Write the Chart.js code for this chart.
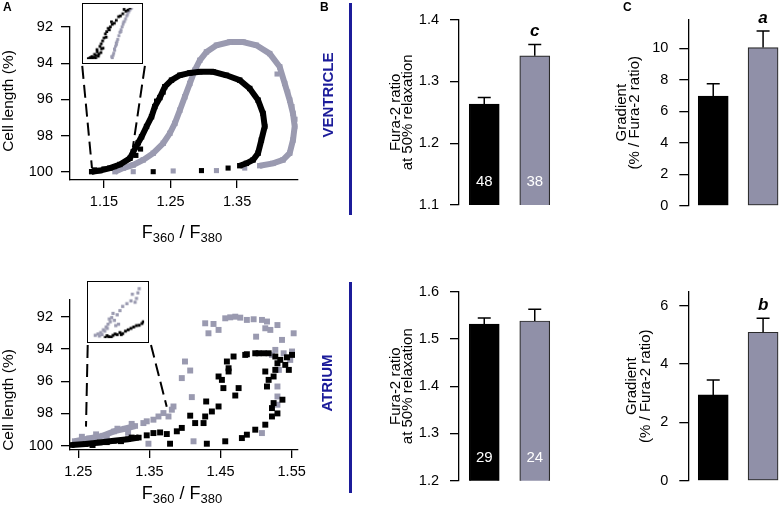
<!DOCTYPE html>
<html>
<head>
<meta charset="utf-8">
<script src="https://cdn.jsdelivr.net/npm/chart.js@4.4.1/dist/chart.umd.min.js"></script>
<style>
  body { margin: 0; width: 781px; height: 516px; background: #fff; position: relative; overflow: hidden;
         font-family: "Liberation Sans", Arial, sans-serif; color: #000; }
  canvas, .txt, .vline { position: absolute; }
  .inset { border: 1px solid #000; }
  .panel { font-weight: bold; font-size: 12px; line-height: 14px; }
  .rot { transform: rotate(-90deg); text-align: center; white-space: nowrap; }
  .tissue { color: #1c1c9a; font-weight: bold; font-size: 15px; line-height: 16px; width: 100px; height: 16px; }
  .ylab { font-size: 15.5px; line-height: 18px; width: 130px; height: 18px; }
  .xlab { font-size: 18px; line-height: 20px; width: 120px; text-align: center; white-space: nowrap; }
  .xlab sub { font-size: 13px; line-height: 0; vertical-align: -4px; }
  .vline { width: 3px; background: #1c1c9a; }
</style>
</head>
<body>

<canvas id="ventLoop" width="320" height="230" style="left:0;top:0"></canvas>
<canvas id="ventInset" class="inset" width="61" height="61" style="left:82px;top:3px"></canvas>
<canvas id="atrLoop" width="320" height="240" style="left:0;top:270px"></canvas>
<canvas id="atrInset" class="inset" width="62" height="62" style="left:87px;top:281px"></canvas>

<canvas id="ventRatio" width="200" height="230" style="left:360px;top:0"></canvas>
<canvas id="atrRatio" width="200" height="240" style="left:360px;top:270px"></canvas>
<canvas id="ventGrad" width="218" height="230" style="left:570px;top:0"></canvas>
<canvas id="atrGrad" width="218" height="240" style="left:570px;top:270px"></canvas>

<div class="txt panel" style="left:3px;top:0">A</div>
<div class="txt panel" style="left:320px;top:0">B</div>
<div class="txt panel" style="left:623px;top:0">C</div>

<div class="txt rot ylab" style="left:-57px;top:92px">Cell length (%)</div>
<div class="txt rot ylab" style="left:-57px;top:391px">Cell length (%)</div>
<div class="txt xlab" style="left:122px;top:222px">F<sub>360</sub> / F<sub>380</sub></div>
<div class="txt xlab" style="left:122px;top:483px">F<sub>360</sub> / F<sub>380</sub></div>

<div class="txt rot tissue" style="left:278px;top:87px">VENTRICLE</div>
<div class="txt rot tissue" style="left:277px;top:375px">ATRIUM</div>
<div class="vline" style="left:349px;top:3px;height:212px"></div>
<div class="vline" style="left:349px;top:282px;height:211px"></div>

<script>
Chart.defaults.font.family = '"Liberation Sans", Arial, sans-serif';
Chart.defaults.color = '#000';

const black = '#000000';
const grey = '#9a9ab0';
const barGrey = '#9090a8';

// ---- panel A, ventricle: [F360/F380, cell length %]
const ventBlackLoop = [[1.1315,100],[1.144,99.94],[1.159,99.8],[1.174,99.6],[1.189,99.26],[1.194,98.9],
  [1.2015,98.4],[1.2065,98.07],[1.214,97.5],[1.2215,96.96],[1.2265,96.4],[1.234,95.9],[1.2415,95.3],
  [1.2515,94.94],[1.264,94.67],[1.279,94.54],[1.294,94.48],[1.314,94.48],[1.334,94.67],[1.354,94.94],
  [1.369,95.4],[1.3815,96.04],[1.389,96.78],[1.3915,97.5],[1.3865,98.25],[1.3815,98.98],[1.374,99.35],
  [1.364,99.54],[1.354,99.67]];
const ventBlackDots = [[1.3365,99.8],[1.2965,99.94],[1.224,100],[1.136,99.9],[1.15,99.85],[1.166,99.72],
  [1.198,99.1],[1.205,98.75],[1.229,96.1],[1.239,95.6]];
const ventGreyLoop = [[1.1665,100],[1.179,99.8],[1.194,99.63],[1.209,99.35],[1.224,98.98],[1.239,98.43],
  [1.249,97.88],[1.2565,97.33],[1.264,96.6],[1.2715,95.86],[1.279,95.12],[1.2865,94.39],[1.294,93.84],
  [1.304,93.38],[1.319,93.01],[1.339,92.83],[1.359,92.83],[1.379,93.01],[1.399,93.47],[1.414,94.2],
  [1.4215,95.12],[1.429,96.04],[1.434,96.78],[1.4365,97.5],[1.434,98.25],[1.429,98.98],[1.419,99.35],
  [1.404,99.54],[1.384,99.67]];
const ventGreyDots = [[1.3615,99.8],[1.319,99.94],[1.254,99.96],[1.194,100],[1.41,94.6],[1.426,95.6],
  [1.4325,96.4],[1.437,97.1]];
const ventInsetBlack = [[1.1328,99.985],[1.1362,99.93],[1.1397,99.87],[1.1431,99.8],[1.1466,99.65],
  [1.15,99.5],[1.1535,99.31],[1.157,99.16],[1.1622,99.05],[1.1673,98.94],[1.1725,98.82],[1.1794,98.69],
  [1.1846,98.6],[1.1345,99.96],[1.1415,99.9],[1.1485,99.72],[1.1552,99.25],[1.1598,99.12],
  [1.131,99.99],[1.1338,99.97],[1.1375,99.98],[1.139,99.95],[1.1412,99.97],[1.1445,99.92],[1.1452,99.86],
  [1.1478,99.82],[1.1505,99.7],[1.1428,99.74],[1.1482,99.58],[1.1518,99.42],[1.1545,99.4],[1.1585,99.2],
  [1.1612,98.98],[1.1648,99.02],[1.1702,98.84],[1.1755,98.76],[1.1772,98.64],[1.182,98.66]];
const ventInsetGrey = [[1.1622,99.985],[1.164,99.84],[1.1663,99.65],[1.1691,99.46],[1.1718,99.27],
  [1.1746,99.12],[1.1777,98.97],[1.1805,98.82],[1.1829,98.71],[1.1857,98.62],[1.1652,99.76],[1.1732,99.2],
  [1.1615,99.93],[1.1632,99.9],[1.165,99.72],[1.1672,99.56],[1.1682,99.52],[1.1705,99.36],[1.173,99.25],
  [1.1758,99.05],[1.1765,98.99],[1.179,98.9],[1.1815,98.78],[1.1842,98.66],[1.1865,98.6],[1.1675,99.6]];
const ventLinks = [[[1.1174,94.15],[1.132,99.8]], [[1.2115,94.15],[1.1935,98.64]]];
const ventXTicks = [1.15, 1.25, 1.35];

// ---- panel A, atrium
const atrBlackBand = [[1.2406,99.96],[1.26,99.9],[1.28,99.8],[1.30,99.7],[1.32,99.6],[1.335,99.5]];
const atrBlackDots = [[1.3462,99.36],[1.3556,99.22],[1.365,99.18],[1.3744,99.28],[1.379,99.88],[1.3885,99.11],
  [1.3955,98.9],[1.4073,98.14],[1.4143,98.6],[1.4261,98.6],[1.4284,98.19],[1.4298,97.26],[1.4307,99.88],
  [1.4378,97.88],[1.4472,97.57],[1.4472,95.71],[1.4519,95.92],[1.454,96.43],[1.4566,99.73],[1.4589,94.78],
  [1.4613,95.2],[1.4613,95.4],[1.4683,94.47],[1.4707,96.89],[1.4754,96.43],[1.48,99.53],[1.4847,94.37],
  [1.487,99.32],[1.487,94.33],[1.4988,99.01],[1.4988,94.27],[1.5035,94.27],[1.5106,94.27],[1.5129,98.7],
  [1.5129,95.4],[1.5153,96.33],[1.5176,95.92],[1.5176,94.27],[1.5223,98.19],[1.5223,97.67],[1.5246,97.36],
  [1.5246,95.71],[1.527,95.3],[1.527,94.47],[1.53,98],[1.53,94.89],[1.534,94.68],[1.537,97.15],[1.541,94.99],
  [1.546,95.3],[1.5434,94.52],[1.5505,94.37],[1.27,99.96],[1.29,99.78],[1.31,99.72],[1.325,99.5]];
const atrGreyBand = [[1.245,99.72],[1.265,99.55],[1.285,99.38],[1.30,99.12],[1.315,98.95],[1.33,98.78]];
const atrGreyDots = [[1.3486,99.88],[1.3415,98.6],[1.3462,98.49],[1.3556,98.39],[1.3627,98.19],[1.3697,97.98],
  [1.3768,98.19],[1.3815,97.77],[1.3838,97.57],[1.3955,95.81],[1.4,94.78],[1.4073,95.34],[1.4096,96.99],
  [1.412,99.73],[1.4284,92.41],[1.433,93.03],[1.4401,92.45],[1.4472,92.82],[1.4566,92.1],[1.4636,92.04],
  [1.4707,92],[1.4777,92.06],[1.487,92.2],[1.4965,92.16],[1.5,93.24],[1.5082,92.2],[1.5129,92.72],
  [1.5153,92.3],[1.52,92.82],[1.5223,94.37],[1.527,94.06],[1.53,92.52],[1.532,95.3],[1.53,96.95],
  [1.53,97.46],[1.5364,93.44],[1.5387,94.27],[1.53,96.33],[1.5505,94.16],[1.5528,93.03],[1.548,94.68],
  [1.5082,99.22],[1.255,99.45],[1.275,99.3],[1.29,99.5],[1.305,98.95],[1.32,99.2],[1.325,98.65]];
const atrInsetGrey = [[1.2707,99.92],[1.2754,99.88],[1.2802,99.84],[1.2849,99.76],[1.2896,99.68],[1.2929,99.6],
  [1.2967,99.53],[1.2991,99.41],[1.3038,99.49],[1.3086,99.33],[1.3133,99.21],[1.318,99.09],[1.3252,99.01],
  [1.3323,98.93],[1.3394,98.97],[1.3418,98.86],[1.3347,98.74],[1.3442,98.7],[1.3465,98.58],[1.3015,99.29],
  [1.3062,99.64],[1.3109,99.6],[1.278,99.94],[1.2825,99.9],[1.287,99.8],[1.2915,99.72],[1.295,99.45]];
const atrInsetBlack = [[1.2882,99.98],[1.2944,99.96],[1.3015,99.92],[1.3086,99.9],[1.3133,99.84],[1.318,99.87],
  [1.3228,99.8],[1.3275,99.76],[1.3323,99.72],[1.337,99.68],[1.3418,99.64],[1.3465,99.63],[1.3513,99.58],
  [1.3536,99.53],[1.2912,99.93],[1.2985,99.97],[1.305,99.88],[1.3155,99.9]];
const atrLinks = [[[1.2632,93.755],[1.2608,98.82]], [[1.3522,93.755],[1.3743,97.58]]];
const atrXTicks = [1.25, 1.35, 1.45, 1.55];
const lengthTicks = [92, 94, 96, 98, 100];

// ---- panels B and C: [black, grey]
const groups = ['black', 'grey'];
const ventRatio = [1.2635, 1.3416];
const ventRatioErr = [0.0105, 0.0184];
const ventN = ['48', '38'];
const ventRatioSig = ['', 'c'];
const atrRatio = [1.5317, 1.538];
const atrRatioErr = [0.0127, 0.025];
const atrN = ['29', '24'];
const atrRatioSig = ['', ''];
const ventGrad = [6.96, 10.04];
const ventGradErr = [0.79, 1.05];
const ventGradSig = ['', 'a'];
const atrGrad = [2.94, 5.09];
const atrGradErr = [0.51, 0.48];
const atrGradSig = ['', 'b'];
const ventRatioTicks = [1.1, 1.2, 1.3, 1.4];
const atrRatioTicks = [1.2, 1.3, 1.4, 1.5, 1.6];
const ventGradTicks = [0, 2, 4, 6, 8, 10];
const atrGradTicks = [0, 2, 4, 6];

const tickFont = { size: 14.5 };
const axisGrid = { drawOnChartArea: false, tickLength: 9, color: '#000', lineWidth: 1.3 };
const axisBorder = { color: '#000', width: 1.3 };

function fixedTicks(values) {
    return axis => { axis.ticks = values.map(v => ({ value: v })); };
}

function xy(pts) {
    return pts.map(p => ({ x: p[0], y: p[1] }));
}

function dots(pts, color, r) {
    return { data: xy(pts), showLine: false, pointStyle: 'rect', pointRadius: r,
             pointBackgroundColor: color, pointBorderWidth: 0 };
}

function trace(pts, color, r, w) {
    const set = dots(pts, color, r);
    set.showLine = true;
    set.borderColor = color;
    set.borderWidth = w;
    set.tension = 0;
    return set;
}

function link(pts) {
    return { data: xy(pts), showLine: true, pointRadius: 0, borderColor: '#000',
             borderWidth: 2, borderDash: [13, 6] };
}

function ShowLoop(id, sets, xr, yr, xTicks, padTop, padBottom) {
    new Chart(document.getElementById(id), {
        type: 'scatter',
        data: { datasets: sets },
        options: {
            responsive: false,
            animation: false,
            layout: { padding: { left: 0, top: padTop, right: 22, bottom: padBottom } },
            plugins: { legend: { display: false }, tooltip: { enabled: false } },
            scales: {
                x: {
                    min: xr[0], max: xr[1],
                    afterBuildTicks: fixedTicks(xTicks),
                    afterFit: a => { a.height = 40; },
                    grid: { drawOnChartArea: false, tickLength: 8, color: '#000', lineWidth: 1.3 },
                    border: axisBorder,
                    ticks: { font: tickFont, padding: 5, maxRotation: 0, autoSkip: false,
                             callback: v => v.toFixed(2) }
                },
                y: {
                    reverse: true,
                    min: yr[0], max: yr[1],
                    afterBuildTicks: fixedTicks(lengthTicks),
                    afterFit: a => { a.width = 70; },
                    grid: axisGrid,
                    border: axisBorder,
                    ticks: { font: tickFont, padding: 8, autoSkip: false, callback: v => String(v) }
                }
            }
        }
    });
}

function ShowInset(id, sets, xr, yr) {
    new Chart(document.getElementById(id), {
        type: 'scatter',
        data: { datasets: sets },
        options: {
            responsive: false,
            animation: false,
            layout: { padding: 0 },
            plugins: { legend: { display: false }, tooltip: { enabled: false } },
            scales: {
                x: { display: false, min: xr[0], max: xr[1] },
                y: { display: false, reverse: true, min: yr[0], max: yr[1] }
            }
        }
    });
}

function barMarks(errs, counts, letters) {
    return {
        id: 'barMarks',
        afterDatasetsDraw(chart) {
            const ctx = chart.ctx;
            const y = chart.scales.y;
            const values = chart.data.datasets[0].data;
            ctx.save();
            chart.getDatasetMeta(0).data.forEach((bar, i) => {
                const top = y.getPixelForValue(values[i] + errs[i]);
                ctx.strokeStyle = '#000';
                ctx.lineWidth = 1.5;
                ctx.beginPath();
                ctx.moveTo(bar.x, bar.y);
                ctx.lineTo(bar.x, top);
                ctx.moveTo(bar.x - 6.5, top);
                ctx.lineTo(bar.x + 6.5, top);
                ctx.stroke();
                ctx.textAlign = 'center';
                if (counts[i]) {
                    ctx.fillStyle = '#fff';
                    ctx.font = '15px "Liberation Sans", Arial, sans-serif';
                    ctx.textBaseline = 'middle';
                    ctx.fillText(counts[i], bar.x, chart.chartArea.bottom - 23);
                }
                if (letters[i]) {
                    ctx.fillStyle = '#000';
                    ctx.font = 'italic bold 17px "Liberation Sans", Arial, sans-serif';
                    ctx.textBaseline = 'alphabetic';
                    ctx.fillText(letters[i], bar.x, top - 8);
                }
            });
            ctx.restore();
        }
    };
}

function ShowBars(id, c) {
    new Chart(document.getElementById(id), {
        type: 'bar',
        data: {
            labels: groups,
            datasets: [{
                data: c.values,
                backgroundColor: [black, barGrey],
                borderColor: ['#000', '#2a2a2a'],
                borderWidth: 1.2,
                borderSkipped: false,
                barThickness: 30
            }]
        },
        options: {
            responsive: false,
            animation: false,
            layout: { padding: { left: 0, top: c.padTop, right: 0, bottom: c.padBottom } },
            plugins: { legend: { display: false }, tooltip: { enabled: false } },
            scales: {
                x: { display: false },
                y: {
                    min: c.yr[0], max: c.yr[1],
                    afterBuildTicks: fixedTicks(c.ticks),
                    afterFit: a => { a.width = c.axisWidth; },
                    grid: axisGrid,
                    border: axisBorder,
                    ticks: { font: tickFont, padding: 11, autoSkip: false, callback: c.fmt },
                    title: { display: true, text: c.title, color: '#000',
                             font: { size: 15, lineHeight: c.lineHeight },
                             padding: { top: c.titlePad, bottom: 0 } }
                }
            }
        },
        plugins: [barMarks(c.errs, c.counts, c.letters)]
    });
}

function ShowGraphs() {
    ShowLoop('ventLoop', [
        trace(ventBlackLoop, black, 3.8, 6), dots(ventBlackDots, black, 3.6),
        trace(ventGreyLoop, grey, 3.8, 6), dots(ventGreyDots, grey, 3.6),
        link(ventLinks[0]), link(ventLinks[1])
    ], [1.099, 1.4415], [92, 100.46], ventXTicks, 27, 10);

    ShowInset('ventInset', [dots(ventInsetBlack, black, 2), dots(ventInsetGrey, grey, 2.1)],
        [1.13, 1.195], [98.6, 100]);

    ShowLoop('atrLoop', [
        dots(atrBlackDots, black, 4.2), trace(atrBlackBand, black, 4, 6),
        dots(atrGreyDots, grey, 4.2), trace(atrGreyBand, grey, 4, 6),
        link(atrLinks[0]), link(atrLinks[1])
    ], [1.2383, 1.5589], [90.965, 100.27], atrXTicks, 30, 20);

    ShowInset('atrInset', [dots(atrInsetBlack, black, 2.1), dots(atrInsetGrey, grey, 2.3)],
        [1.265, 1.355], [98.5, 100]);

    const ratioTitle = ['Fura-2 ratio', 'at 50% relaxation'];
    const gradTitle = ['Gradient', '(% / Fura-2 ratio)'];

    ShowBars('ventRatio', { values: ventRatio, errs: ventRatioErr, counts: ventN, letters: ventRatioSig,
        yr: [1.1, 1.4], ticks: ventRatioTicks, fmt: v => v.toFixed(1), title: ratioTitle,
        lineHeight: '12px', titlePad: 30, axisWidth: 99, padTop: 15.7, padBottom: 25 });
    ShowBars('atrRatio', { values: atrRatio, errs: atrRatioErr, counts: atrN, letters: atrRatioSig,
        yr: [1.2, 1.6], ticks: atrRatioTicks, fmt: v => v.toFixed(1), title: ratioTitle,
        lineHeight: '12px', titlePad: 30, axisWidth: 99, padTop: 21.7, padBottom: 29.3 });
    ShowBars('ventGrad', { values: ventGrad, errs: ventGradErr, counts: ['', ''], letters: ventGradSig,
        yr: [0, 11.81], ticks: ventGradTicks, fmt: v => String(v), title: gradTitle,
        lineHeight: '13px', titlePad: 45.6, axisWidth: 118.3, padTop: 16.7, padBottom: 24.3 });
    ShowBars('atrGrad', { values: atrGrad, errs: atrGradErr, counts: ['', ''], letters: atrGradSig,
        yr: [0, 6.48], ticks: atrGradTicks, fmt: v => String(v), title: gradTitle,
        lineHeight: '14px', titlePad: 54.5, axisWidth: 118.3, padTop: 21.7, padBottom: 29.3 });
}

window.addEventListener('load', ShowGraphs);
</script>
</body>
</html>
